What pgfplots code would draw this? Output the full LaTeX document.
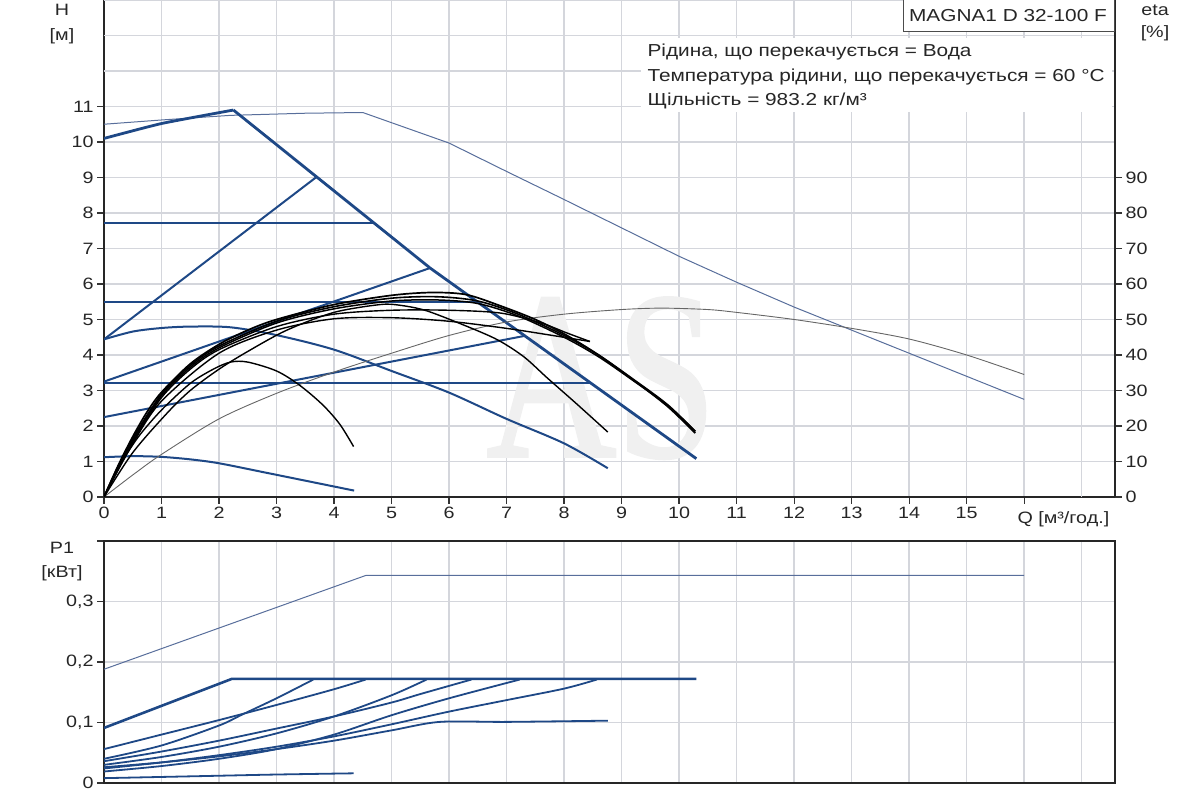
\documentclass[border=0pt]{standalone}
\usepackage{fontspec}
\setmainfont{Liberation Sans}[FakeStretch=1.2]
\newfontfamily\wmfont{Liberation Serif}[FakeBold=1.5]
\usepackage{pgfplots}
\pgfplotsset{compat=1.18}
\definecolor{blu}{RGB}{30,72,134}
\definecolor{bluthin}{RGB}{88,110,155}
\definecolor{gridc}{RGB}{212,214,220}
\newcommand{\fs}{\fontsize{16.5}{16.5}\selectfont}
\newcommand{\fl}{\fontsize{17.4}{17.4}\selectfont}
\newcommand{\fw}{\wmfont\fontsize{240}{240}\selectfont}
\begin{document}
\begin{tikzpicture}[x=1bp,y=1bp]
\path[use as bounding box] (0,0) rectangle (1200,800);
\pgfplotsset{
 common/.style={
  scale only axis, width=1011bp,
  xmin=0, xmax=17.58,
  grid=major, major grid style={gridc, line width=1.5bp},
  axis line style={black!85, line width=1.3bp},
  tick style={black!80, line width=1.2bp},
  major tick length=7bp,
  tick align=outside,
  tick pos=left,
  tick label style={font=\fs, text=black!85},
 }
}
% ---------------- top panel (H) ----------------
\begin{axis}[common, at={(104bp,303bp)}, anchor=south west, height=497bp,
  ymin=0, ymax=14,
  xtick={0,1,2,3,4,5,6,7,8,9,10,11,12,13,14,15,16},
  xticklabels={0,1,2,3,4,5,6,7,8,9,10,11,12,13,14,15,{}},
  ytick={0,1,2,3,4,5,6,7,8,9,10,11},
  yticklabels={0,1,2,3,4,5,6,7,8,9,10,11},
  extra x ticks={17}, extra x tick labels={}, extra x tick style={grid=major, major tick length=0pt},
  extra y ticks={12,13,14}, extra y tick labels={}, extra y tick style={grid=major, major tick length=0pt},
]
\node[text=black!6, xscale=0.75, inner sep=0pt, anchor=base, font=\fw] at (axis cs:8.65,1.15) {AS};
% max curve
\addplot[bluthin, line width=1bp] coordinates {(0,10.5)(1,10.62)(2.2,10.75)(3.5,10.81)(4.5,10.83)(6,9.97)(7,9.17)(8,8.38)(10,6.78)(11,6.05)(12,5.35)(13,4.7)(14,4.05)(15,3.4)(16,2.75)};
% constant curve III
\addplot[blu, line width=2.8bp, smooth, tension=0.3] coordinates {(0,10.1)(1,10.52)(2.25,10.9)};
\addplot[blu, line width=2.8bp] coordinates {(2.25,10.9)(5.67,6.45)(10.3,1.08)};
% constant pressure / proportional pressure lines
\addplot[blu, line width=2bp] coordinates {(0,7.72)(4.72,7.72)};
\addplot[blu, line width=2bp] coordinates {(0,4.44)(3.7,9.02)};
\addplot[blu, line width=2bp] coordinates {(0,5.48)(6.51,5.48)};
\addplot[blu, line width=2bp] coordinates {(0,3.25)(5.67,6.45)};
\addplot[blu, line width=2bp] coordinates {(0,3.2)(8.45,3.2)};
\addplot[blu, line width=2bp] coordinates {(0,2.25)(7.32,4.54)};
% constant curves II and I
\addplot[blu, line width=2bp, smooth] coordinates {(0,4.44)(0.5,4.66)(1,4.76)(1.5,4.8)(2.2,4.78)(3,4.56)(4,4.15)(5,3.55)(6,2.94)(7,2.2)(8,1.51)(8.76,0.81)};
\addplot[blu, line width=2bp, smooth] coordinates {(0,1.12)(0.5,1.15)(1,1.13)(1.5,1.06)(2,0.95)(2.83,0.68)(3.5,0.46)(4.35,0.18)};
% efficiency curves (read on the eta axis, /10)
\addplot[black!60, line width=0.9bp, smooth] coordinates {(0,0)(0.5,0.62)(1,1.2)(2,2.2)(3,2.92)(4,3.52)(5,4.05)(6,4.55)(7,4.93)(8,5.15)(9,5.28)(9.7,5.32)(10.5,5.28)(11,5.2)(12,5.0)(13,4.75)(14,4.45)(15,4.0)(16,3.45)};
\addplot[black, line width=1.7bp, smooth] coordinates {(0,0)(0.25,0.9)(0.5,1.7)(0.75,2.4)(1,2.95)(1.5,3.75)(2,4.3)(2.5,4.7)(3,5.0)(4,5.42)(5,5.68)(5.7,5.76)(6.3,5.7)(6.9,5.38)(7.5,5.0)(8.05,4.55)(8.6,4.0)(9.2,3.3)(9.8,2.55)(10.28,1.8)};
\addplot[black, line width=1.6bp, smooth] coordinates {(0,0)(0.25,0.88)(0.5,1.65)(1,2.9)(1.5,3.7)(2,4.25)(3,4.95)(4,5.36)(5,5.6)(5.8,5.64)(6.5,5.52)(7.2,5.15)(8,4.55)(8.6,4.0)(9.2,3.32)(9.8,2.6)(10.28,1.85)};
\addplot[black, line width=1.5bp, smooth] coordinates {(0,0)(0.25,0.85)(0.5,1.6)(1,2.85)(1.5,3.65)(2,4.2)(3,4.9)(4,5.3)(5,5.52)(5.8,5.55)(6.5,5.45)(7.2,5.1)(8,4.5)(8.6,3.95)(9.2,3.28)(9.8,2.58)(10.28,1.85)};
\addplot[black, line width=1.4bp, smooth] coordinates {(0,0)(0.25,0.85)(0.5,1.55)(1,2.8)(1.5,3.6)(2,4.15)(3,4.8)(4,5.15)(5,5.26)(6,5.26)(6.9,5.18)(7.6,4.9)(8.05,4.62)(8.45,4.38)};
\addplot[black, line width=1.4bp, smooth] coordinates {(0,0)(0.5,1.5)(1,2.7)(2,4.05)(3,4.7)(4,5.02)(5,5.05)(6,4.95)(7,4.75)(7.8,4.55)(8.45,4.38)};
\addplot[black, line width=1.4bp, smooth] coordinates {(0,0)(0.5,1.25)(1.09,2.35)(1.5,3.0)(2,3.6)(2.5,4.1)(3.18,4.7)(4,5.2)(4.8,5.42)(5.15,5.4)(5.6,5.25)(6.26,4.84)(6.84,4.43)(7.3,3.95)(7.71,3.35)(8.2,2.65)(8.76,1.83)};
\addplot[black, line width=1.4bp, smooth] coordinates {(0,0)(0.3,0.95)(0.6,1.7)(1,2.45)(1.5,3.2)(1.9,3.6)(2.2,3.8)(2.5,3.8)(3,3.55)(3.4,3.15)(3.8,2.6)(4.1,2.05)(4.34,1.42)};
\end{axis}
% eta axis on the right
\begin{axis}[at={(104bp,303bp)}, anchor=south west, scale only axis, width=1011bp, height=497bp,
  xmin=0, xmax=17.58, ymin=0, ymax=140,
  axis x line=none, axis y line*=right,
  axis line style={black!85, line width=1.3bp},
  tick style={black!80, line width=1.2bp},
  major tick length=7bp, tick align=outside,
  ytick={0,10,20,30,40,50,60,70,80,90},
  yticklabels={0,10,20,30,40,50,60,70,80,90},
  tick label style={font=\fs, text=black!85},
]
\end{axis}
% ---------------- bottom panel (P1) ----------------
\begin{axis}[common, at={(104bp,17bp)}, anchor=south west, height=242bp,
  ymin=0, ymax=0.4,
  xtick={0,1,2,3,4,5,6,7,8,9,10,11,12,13,14,15,16,17}, xticklabels={},
  xtick style={draw=none},
  ytick={0,0.1,0.2,0.3,0.4},
  yticklabels={0,{0,1},{0,2},{0,3},{}},
]
\addplot[bluthin, line width=1bp] coordinates {(0,0.188)(4.55,0.343)(16,0.343)};
\addplot[blu, line width=2.6bp] coordinates {(0,0.091)(2.22,0.172)(10.3,0.172)};
\addplot[blu, line width=1.8bp, smooth] coordinates {(0,0.056)(1,0.08)(2,0.104)(3,0.129)(4,0.155)(4.55,0.171)};
\addplot[blu, line width=1.8bp, smooth] coordinates {(0,0.040)(1,0.062)(2,0.095)(2.4,0.113)(3,0.14)(3.64,0.171)};
\addplot[blu, line width=1.8bp, smooth] coordinates {(0,0.036)(1,0.052)(2,0.07)(3,0.09)(4,0.11)(5,0.133)(5.5,0.147)(6.39,0.171)};
\addplot[blu, line width=1.8bp, smooth] coordinates {(0,0.03)(1,0.043)(2,0.06)(3,0.082)(4,0.11)(5,0.145)(5.61,0.171)};
\addplot[blu, line width=1.8bp, smooth] coordinates {(0,0.024)(1,0.034)(2,0.046)(3,0.06)(4,0.077)(5,0.097)(6,0.118)(7,0.137)(8,0.156)(8.57,0.171)};
\addplot[blu, line width=1.8bp, smooth] coordinates {(0,0.019)(1,0.028)(2,0.04)(3,0.056)(4,0.08)(5,0.112)(6,0.14)(7.23,0.171)};
\addplot[blu, line width=1.8bp, smooth] coordinates {(0,0.026)(1,0.034)(2,0.044)(3,0.056)(4,0.07)(5,0.087)(5.84,0.101)(7,0.101)(8.76,0.103)};
\addplot[blu, line width=1.8bp, smooth] coordinates {(0,0.008)(1,0.01)(2,0.012)(3,0.014)(4.34,0.016)};
\end{axis}
% ---------------- texts ----------------
\begin{scope}[font=\fs, text=black!85]
\node at (62,790) {H};
\node at (62,764) {[м]};
\node at (1155,790) {eta};
\node at (1155,767) {[\%]};
\node[anchor=west] at (1014,281) {Q [м³/год.]};
\node at (62,252) {P1};
\node at (62,227) {[кВт]};
\fill[white] (641,688) rectangle (1112,762);
\node[anchor=west, font=\fl] at (644,748) {Рідина, що перекачується = Вода};
\node[anchor=west, font=\fl] at (644,723) {Температура рідини, що перекачується = 60 °C};
\node[anchor=west, font=\fl] at (644,699) {Щільність = 983.2 кг/м³};
\draw[black!70, line width=1bp, fill=white] (903,768) rectangle (1114,803);
\node[font=\fl] at (1008,784) {MAGNA1 D 32-100 F};
\end{scope}
\end{tikzpicture}
\end{document}
